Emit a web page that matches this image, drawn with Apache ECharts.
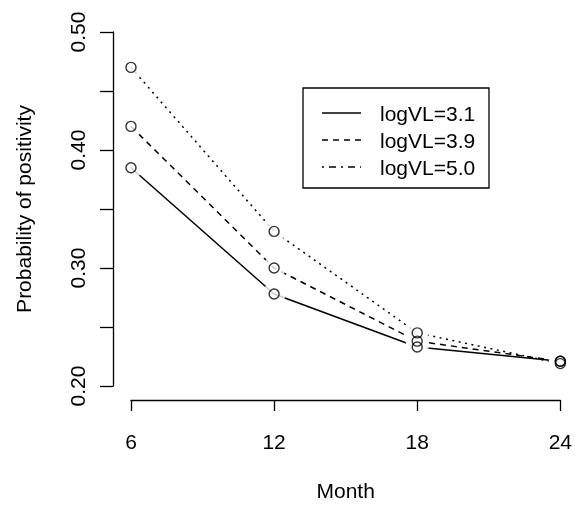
<!DOCTYPE html>
<html>
<head>
<meta charset="utf-8">
<script src="https://cdn.jsdelivr.net/npm/echarts@6/dist/echarts.min.js"></script>
<style>
html,body{margin:0;padding:0;background:#fff;}
#chart{width:575px;height:508px;}
</style>
</head>
<body>
<div id="chart"></div>
<script>
// ---- data ----
var months = [6, 12, 18, 24];
var seriesNames = ['logVL=3.1', 'logVL=3.9', 'logVL=5.0'];
var vl31 = [0.385, 0.278, 0.233, 0.221];
var vl39 = [0.420, 0.300, 0.238, 0.221];
var vl50 = [0.470, 0.331, 0.245, 0.219];
var xTicks = [6, 12, 18, 24];
var yLabelTicks = [0.20, 0.30, 0.40, 0.50];

var FONT = '"Liberation Sans", Arial, Helvetica, sans-serif';
var allValues = [vl31, vl39, vl50];
var lineTypes = ['solid', [6, 5], [2, 4.5]];
var legendTypes = ['solid', [6, 5], [2, 5, 7, 5]];

function pairs(vals) {
  return months.map(function (m, i) { return [m, vals[i]]; });
}

var series = [];
allValues.forEach(function (vals, i) {
  series.push({
    name: seriesNames[i], type: 'line', data: pairs(vals), showSymbol: false,
    z: 2, silent: true, animation: false,
    lineStyle: { color: '#000', width: 1.5, type: lineTypes[i] }
  });
});
allValues.forEach(function (vals, i) {
  series.push({
    type: 'scatter', data: pairs(vals), symbol: 'circle', symbolSize: 23,
    z: 3, silent: true, animation: false,
    itemStyle: { color: '#fff', borderWidth: 0 }
  });
});
allValues.forEach(function (vals, i) {
  series.push({
    type: 'scatter', data: pairs(vals), symbol: 'circle', symbolSize: 10,
    z: 4, silent: true, animation: false,
    itemStyle: { color: 'rgba(0,0,0,0)', borderColor: '#000', borderWidth: 1.4 }
  });
});

// legend drawn as graphic
var legendLeft = 303, legendTop = 88, legendW = 186, legendH = 100;
var rowY = [113, 140, 167];
var graphics = [{
  type: 'rect', shape: { x: legendLeft, y: legendTop, width: legendW, height: legendH },
  style: { fill: '#fff', stroke: '#000', lineWidth: 1.3 }, z: 10
}];
seriesNames.forEach(function (n, i) {
  graphics.push({
    type: 'line', shape: { x1: 322, y1: rowY[i], x2: 361, y2: rowY[i] },
    style: { stroke: '#000', lineWidth: 1.5, lineDash: legendTypes[i] === 'solid' ? null : legendTypes[i] }, z: 11
  });
  graphics.push({
    type: 'text', x: 380, y: rowY[i] + 2,
    style: { text: n, fill: '#000', font: '21px ' + FONT, verticalAlign: 'middle', align: 'left' }, z: 11
  });
});

var chart = echarts.init(document.getElementById('chart'), null, { renderer: 'canvas' });
chart.setOption({
  backgroundColor: '#fff',
  animation: false,
  textStyle: { fontFamily: FONT, color: '#000' },
  grid: { left: 131, right: 13, top: 32, bottom: 120, containLabel: false },
  xAxis: {
    type: 'value', min: 6, max: 24, interval: 6, offset: 14,
    name: 'Month', nameLocation: 'middle', nameGap: 82,
    nameTextStyle: { fontSize: 21, color: '#000', fontFamily: FONT },
    axisLine: { show: true, lineStyle: { color: '#000', width: 1.3 } },
    axisTick: { show: true, length: 11, lineStyle: { color: '#000', width: 1.3 } },
    axisLabel: { fontSize: 21, color: '#000', margin: 33, fontFamily: FONT,
      formatter: function (v) { return xTicks.indexOf(v) >= 0 ? String(v) : ''; } },
    splitLine: { show: false }
  },
  yAxis: {
    type: 'value', min: 0.2, max: 0.5, interval: 0.05, offset: 18,
    name: 'Probability of positivity', nameLocation: 'middle', nameGap: 77,
    nameTextStyle: { fontSize: 21, color: '#000', fontFamily: FONT },
    axisLine: { show: true, lineStyle: { color: '#000', width: 1.3 } },
    axisTick: { show: true, length: 13, lineStyle: { color: '#000', width: 1.3 } },
    axisLabel: { fontSize: 21, color: '#000', rotate: 90, margin: 23, fontFamily: FONT,
      formatter: function (v) {
        var r = Math.round(v * 100) / 100;
        for (var k = 0; k < yLabelTicks.length; k++) {
          if (Math.abs(yLabelTicks[k] - r) < 1e-6) return yLabelTicks[k].toFixed(2);
        }
        return '';
      } },
    splitLine: { show: false }
  },
  series: series,
  graphic: graphics
});
</script>
</body>
</html>
